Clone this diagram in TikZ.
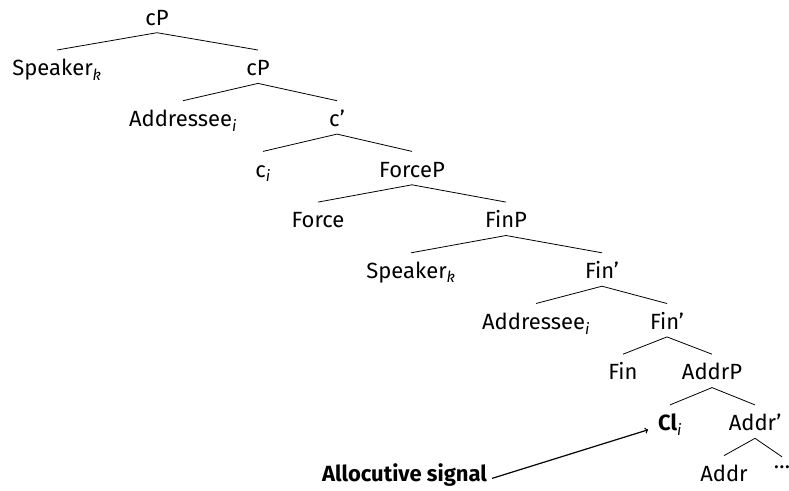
\documentclass[tikz,border=0pt]{standalone}
\usepackage{fontspec}
\setmainfont{Fira Sans}
\usetikzlibrary{positioning}

\newcommand{\idx}[1]{\textsubscript{\textit{#1}}}

\begin{document}
\begin{tikzpicture}[x=1pt, y=-1pt,
				TreeNode/.style={anchor=base, inner sep=4pt, text height=21.5pt, text depth=3.5pt, font=\fontsize{22}{26}\selectfont},
				TreeEdge/.style={line width=0.8pt}]

			\useasboundingbox (0,0) rectangle (789,490);

			% Nodes
			\node[TreeNode] (cP) at (157,25) {cP};

			\node[TreeNode] (SpkTop) at (57,75.7) {Speaker\idx{k}};
			\node[TreeNode] (cPlow) at (258,75.7) {cP};

			\node[TreeNode] (AdrTop) at (183,126.4) {Addressee\idx{i}};
			\node[TreeNode] (cBar) at (337,126.4) {c’};

			\node[TreeNode] (cHead) at (263,177.1) {c\idx{i}};
			\node[TreeNode] (ForceP) at (412,177.1) {ForceP};

			\node[TreeNode] (Force) at (318,227.8) {Force};
			\node[TreeNode] (FinP) at (506,227.8) {FinP};

			\node[TreeNode] (SpkLow) at (411,278.5) {Speaker\idx{k}};
			\node[TreeNode] (FinBar) at (602,278.5) {Fin’};

			\node[TreeNode] (AdrLow) at (536,329.2) {Addressee\idx{i}};
			\node[TreeNode] (FinBarLow) at (667,329.2) {Fin’};

			\node[TreeNode] (Fin) at (623,379.9) {Fin};
			\node[TreeNode] (AddrP) at (712,379.9) {AddrP};

			\node[TreeNode] (Cl) at (670,430.6) {\textbf{Cl}\idx{i}};
			\node[TreeNode] (AddrBar) at (755,430.6) {Addr’};

			\node[TreeNode] (Addr) at (724,481.3) {Addr};
			\node[TreeNode, inner sep=0pt, text height=11pt, text depth=0pt] (Dots) at (782,468) {\dots};

			\node[anchor=base, inner sep=4pt, font=\fontsize{22}{26}\selectfont\bfseries] (Signal) at (404.5,481.3) {Allocutive signal};

			% Lines
			\draw[TreeEdge] (SpkTop.north) -- (cP.south) -- (cPlow.north);
			\draw[TreeEdge] (AdrTop.north) -- (cPlow.south) -- (cBar.north);
			\draw[TreeEdge] (cHead.north) -- (cBar.south) -- (ForceP.north);
			\draw[TreeEdge] (Force.north) -- (ForceP.south) -- (FinP.north);
			\draw[TreeEdge] (SpkLow.north) -- (FinP.south) -- (FinBar.north);
			\draw[TreeEdge] (AdrLow.north) -- (FinBar.south) -- (FinBarLow.north);
			\draw[TreeEdge] (Fin.north) -- (FinBarLow.south) -- (AddrP.north);
			\draw[TreeEdge] (Cl.north) -- (AddrP.south) -- (AddrBar.north);
			\draw[TreeEdge] (Addr.north) -- (AddrBar.south) -- (Dots.north);

			\draw[line width=1.2pt, ->, shorten <=1pt, shorten >=6pt] (Signal.mid east) to (Cl.mid west);
		\end{tikzpicture}
\end{document}
